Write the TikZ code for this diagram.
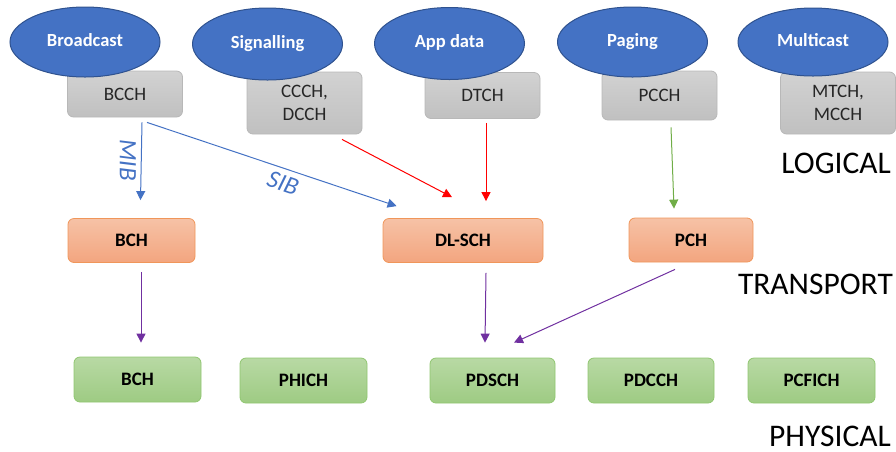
\documentclass[tikz,border=0pt]{standalone}
\usepackage{fontspec}
\setmainfont{Carlito}
\usetikzlibrary{arrows.meta,shapes.geometric}
\definecolor{ellfill}{HTML}{4472C4}
\definecolor{elldraw}{HTML}{2F528F}
\definecolor{grtop}{HTML}{D2D2D2}
\definecolor{grbot}{HTML}{C0C0C0}
\definecolor{grdraw}{HTML}{B8B8B8}
\definecolor{ortop}{HTML}{F6C2A6}
\definecolor{orbot}{HTML}{F3A57F}
\definecolor{ordraw}{HTML}{F0965A}
\definecolor{gntop}{HTML}{B8D9A4}
\definecolor{gnbot}{HTML}{9ECB83}
\definecolor{gndraw}{HTML}{90C670}
\definecolor{arblue}{HTML}{4472C4}
\definecolor{arred}{HTML}{FF0000}
\definecolor{argreen}{HTML}{70AD47}
\definecolor{arpurple}{HTML}{7030A0}
\definecolor{txtdark}{HTML}{262626}
\tikzset{
  ell/.style={ellipse, draw=elldraw, line width=1pt, fill=ellfill, minimum width=150pt, minimum height=70pt, inner sep=0pt,
    text=white, font=\fontsize{18.5}{20}\selectfont\bfseries},
  logbox/.style={rectangle, rounded corners=6pt, draw=grdraw, line width=0.8pt, top color=grtop, bottom color=grbot,
    minimum width=115pt, minimum height=46pt, inner sep=0pt, text=txtdark, align=center,
    font=\fontsize{19}{23}\selectfont},
  trbox/.style={rectangle, rounded corners=6pt, draw=ordraw, line width=0.8pt, top color=ortop, bottom color=orbot,
    minimum height=44pt, inner sep=0pt, text=black, font=\fontsize{19}{20}\selectfont\bfseries},
  phbox/.style={rectangle, rounded corners=6pt, draw=gndraw, line width=0.8pt, top color=gntop, bottom color=gnbot,
    minimum width=127pt, minimum height=45pt, inner sep=0pt, text=black, font=\fontsize{19}{20}\selectfont\bfseries},
  layer/.style={anchor=base east, inner sep=0pt, text=black, font=\fontsize{31.5}{32}\selectfont},
  conn/.style={line width=1pt, -{Triangle[length=9pt,width=9pt]}},
  lbl/.style={text=arblue, font=\fontsize{25}{27}\selectfont\itshape, inner sep=0pt}
}
\begin{document}
\begin{tikzpicture}[x=1pt,y=-1pt]
\useasboundingbox (0,0) rectangle (896,451);
% logical channel boxes
\node[logbox] (bcch) at (125,94) {BCCH};
\node[logbox, minimum height=62pt] (ccch) at (304.5,103) {CCCH,\\DCCH};
\node[logbox] (dtch) at (482.5,95.5) {DTCH};
\node[logbox, minimum height=49pt] (pcch) at (659.5,95.5) {PCCH};
\node[logbox, minimum height=62pt] (mtch) at (838,103) {MTCH,\\MCCH};
% ellipses
\node[ell] (broadcast) at (85,42) {\raisebox{4pt}{Broadcast}};
\node[ell, minimum height=72pt] (signalling) at (267.5,44) {\raisebox{4pt}{Signalling}};
\node[ell, minimum height=72pt] (appdata) at (449.5,43.5) {\raisebox{4pt}{App data}};
\node[ell] (paging) at (632.5,42) {\raisebox{4pt}{Paging}};
\node[ell, minimum height=68pt] (multicast) at (813,42) {\raisebox{4pt}{Multicast}};
% transport
\node[trbox, minimum width=127pt] (tbch) at (131.5,240.5) {BCH};
\node[trbox, minimum width=160pt] (dlsch) at (463,240.5) {DL-SCH};
\node[trbox, minimum width=124pt] (pch) at (691,240) {PCH};
% physical
\node[phbox] (pbch) at (137.5,379.5) {BCH};
\node[phbox] (phich) at (303.5,380.5) {PHICH};
\node[phbox, minimum width=125pt] (pdsch) at (492.5,380.5) {PDSCH};
\node[phbox, minimum width=126pt] (pdcch) at (651,380.5) {PDCCH};
\node[phbox] (pcfich) at (811.5,380.5) {PCFICH};
% layer labels
\node[layer] (logical) at (891,173) {LOGICAL};
\node[layer] (transport) at (893,294) {TRANSPORT};
\node[layer] (physical) at (891,446) {PHYSICAL};
% connectors
\draw[conn, arblue] ([xshift=17pt,yshift=-5pt]bcch.south) -- ([xshift=9pt,yshift=18pt]tbch.north);
\node[lbl, rotate=-90] (mib) at (128,160) {MIB};
\draw[conn, arblue] ([xshift=22pt,yshift=-5pt]bcch.south) -- ([xshift=14pt,yshift=12pt]dlsch.north west);
\node[lbl, rotate=-19] (sib) at (283,183) {SIB};
\draw[conn, arred] ([xshift=37.5pt,yshift=-5pt]ccch.south) -- ([xshift=-11pt,yshift=21pt]dlsch.north);
\draw[conn, arred] ([xshift=3.5pt,yshift=-4pt]dtch.south) -- ([xshift=23pt,yshift=17pt]dlsch.north);
\draw[conn, argreen] ([xshift=11.5pt,yshift=-7pt]pcch.south) -- ([xshift=-17pt,yshift=9pt]pch.north);
\draw[conn, arpurple] ([xshift=9.5pt,yshift=-9pt]tbch.south) -- ([xshift=3.5pt,yshift=14pt]pbch.north);
\draw[conn, arpurple] ([xshift=23pt,yshift=-10pt]dlsch.south) -- ([xshift=-7.5pt,yshift=15pt]pdsch.north);
\draw[conn, arpurple] ([xshift=-16pt,yshift=-7pt]pch.south) -- ([xshift=21.5pt,yshift=15pt]pdsch.north);
\end{tikzpicture}
\end{document}
